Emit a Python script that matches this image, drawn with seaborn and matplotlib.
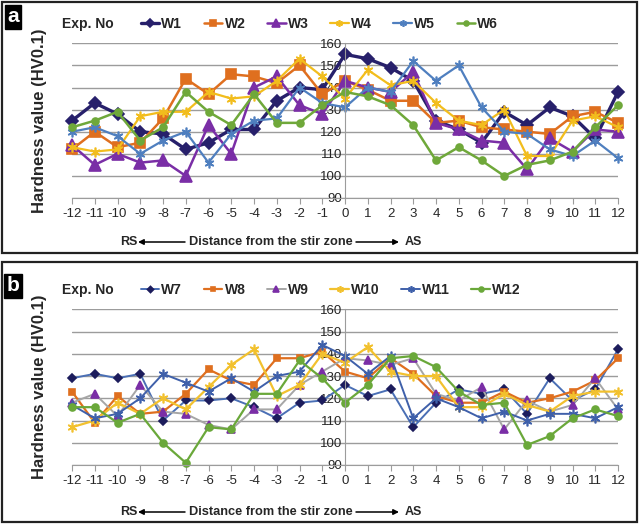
import matplotlib
matplotlib.use("Agg")
import matplotlib.pyplot as plt
from matplotlib.patches import Rectangle, FancyArrowPatch
import seaborn as sns

# distance from the stir zone (category positions)
positions = list(range(-12, 13))
y_ticks = [90, 100, 110, 120, 130, 140, 150, 160]

# panel a hardness values
w1 = [125, 133, 128, 120, 119, 112, 115, 121, 121, 134, 140, 139, 155,
      153, 149, 143, 125, 121, 115, 129, 123, 131, 127, 117, 138]
w2 = [112, 120, 113, 115, 126, 144, 137, 146, 145, 142, 150, 137, 143,
      139, 134, 134, 124, 125, 122, 121, 120, 119, 127, 129, 124]
w3 = [114, 105, 110, 106, 107, 100, 123, 110, 140, 145, 132, 128, 143,
      140, 138, 147, 124, 121, 116, 115, 103, 117, 111, 121, 120]
w4 = [113, 111, 112, 127, 129, 129, 138, 135, 136, 143, 153, 145, 135,
      148, 141, 143, 133, 125, 123, 130, 109, 109, 125, 127, 122]
w5 = [120, 122, 118, 110, 116, 120, 106, 119, 125, 126, 140, 133, 131,
      140, 138, 152, 143, 150, 131, 120, 119, 112, 109, 116, 108]
w6 = [122, 125, 129, 116, 122, 138, 129, 123, 137, 124, 124, 132, 138,
      136, 132, 123, 107, 113, 107, 100, 105, 107, 111, 122, 132]

# panel b hardness values
w7 = [129, 131, 129, 131, 110, 119, 119, 120, 116, 111, 118, 119, 126,
      121, 124, 107, 118, 124, 122, 124, 113, 129, 119, 124, 142]
w8 = [123, 109, 121, 113, 114, 122, 133, 128, 126, 138, 138, 141, 132,
      129, 138, 131, 121, 118, 118, 123, 118, 120, 123, 128, 138]
w9 = [118, 122, 112, 126, 114, 113, 108, 106, 115, 115, 126, 132, 138,
      137, 135, 138, 122, 119, 125, 106, 119, 114, 117, 129, 115]
w10 = [107, 110, 118, 113, 120, 115, 125, 135, 142, 121, 126, 140, 136,
       143, 132, 130, 130, 116, 116, 122, 117, 114, 121, 123, 123]
w11 = [117, 111, 113, 120, 131, 127, 123, 129, 123, 130, 132, 144, 139,
       131, 139, 111, 120, 116, 111, 114, 110, 113, 113, 111, 116]
w12 = [116, 116, 109, 113, 100, 91, 107, 106, 122, 122, 137, 129, 118,
       126, 138, 139, 134, 123, 117, 118, 99, 103, 111, 115, 112]

ASTER = (6, 2, 0)

# name, values, line colour, marker colour, marker, marker size, line width
series_a = [
    ("W1", w1, "#27206b", "#27206b", "D", 6.5, 2.4),
    ("W2", w2, "#df6f1f", "#df6f1f", "s", 7, 1.8),
    ("W3", w3, "#7a2ea6", "#7a2ea6", "^", 8, 1.8),
    ("W4", w4, "#f2bd1d", "#f2bd1d", ASTER, 7, 1.6),
    ("W5", w5, "#4f7fbf", "#4f7fbf", ASTER, 7, 1.6),
    ("W6", w6, "#6fa83a", "#6fa83a", "o", 5, 1.8),
]
series_b = [
    ("W7", w7, "#4a6fb5", "#1c1c5c", "D", 4.5, 1.4),
    ("W8", w8, "#df6f1f", "#df6f1f", "s", 5, 1.6),
    ("W9", w9, "#a6a6a6", "#7a2ea6", "^", 6, 1.4),
    ("W10", w10, "#f2c12e", "#f2c12e", ASTER, 7, 1.6),
    ("W11", w11, "#3f60aa", "#3f60aa", ASTER, 7, 1.4),
    ("W12", w12, "#6aa83a", "#6aa83a", "o", 5, 1.6),
]

sns.set_style("white")
plt.rcParams["font.family"] = ["Liberation Sans", "DejaVu Sans"]

fig = plt.figure(figsize=(6.4, 5.25), dpi=100)
W, H = 640.0, 525.0


def draw_panel(ax, series, legend_y, xlabel_y, letter, letter_y):
    for name, vals, lc, mc, mk, ms, lw in series:
        sns.lineplot(x=positions, y=vals, ax=ax, color=lc, lw=lw, marker=mk,
                     markersize=ms, markerfacecolor=mc, markeredgecolor=mc,
                     markeredgewidth=1.2, label=name, clip_on=False)
    ax.set_xlim(-12, 12)
    ax.set_ylim(90, 160)
    ax.set_xticks(positions)
    ax.set_xticklabels([str(p) for p in positions])
    ax.set_yticks(y_ticks)
    ax.yaxis.grid(True, color="#9c9c9c", lw=1)
    ax.set_axisbelow(True)
    for s in ("top", "right"):
        ax.spines[s].set_visible(False)
    ax.spines["left"].set_position(("data", 0))
    ax.spines["left"].set_color("#9c9c9c")
    ax.spines["bottom"].set_color("#9c9c9c")
    ax.tick_params(axis="x", length=4, color="#9c9c9c", labelsize=9.5,
                   pad=3, direction="out", bottom=True)
    ax.tick_params(axis="y", length=0, labelsize=9.5, pad=2)
    ax.set_ylabel("Hardness value (HV0.1)", fontsize=12, fontweight="bold")
    ax.yaxis.set_label_coords(-0.046, 0.5)
    ax.set_xlabel("")

    leg = ax.legend(ncol=6, loc="center left", frameon=False,
                    bbox_to_anchor=(128 / W, legend_y),
                    bbox_transform=fig.transFigure, handlelength=1.35,
                    handletextpad=0.15, columnspacing=1.55,
                    prop={"weight": "bold", "size": 10})
    for h in leg.legend_handles:
        h.set_markersize(h.get_markersize() * 0.7)
    fig.text(62 / W, legend_y, "Exp. No", fontsize=10, fontweight="bold",
             va="center", ha="left")

    fig.text(120 / W, xlabel_y, "RS", fontsize=9, fontweight="bold",
             va="center", ha="left")
    fig.text(189 / W, xlabel_y, "Distance from the stir zone", fontsize=9.2,
             fontweight="bold", va="center", ha="left")
    fig.text(405 / W, xlabel_y, "AS", fontsize=9, fontweight="bold",
             va="center", ha="left")
    arrow = dict(arrowstyle="-|>", color="black", lw=1.1,
                 mutation_scale=8, shrinkA=0, shrinkB=0)
    fig.add_artist(FancyArrowPatch((185 / W, xlabel_y), (138 / W, xlabel_y),
                                   transform=fig.transFigure, **arrow))
    fig.add_artist(FancyArrowPatch((356 / W, xlabel_y), (399 / W, xlabel_y),
                                   transform=fig.transFigure, **arrow))

    fig.text(13 / W, letter_y, letter, color="white", fontsize=15,
             fontweight="bold", ha="center", va="center",
             bbox=dict(facecolor="black", edgecolor="black",
                       boxstyle="square,pad=0.12"))


ax_a = fig.add_axes([72 / W, 1 - 198 / H, 546 / W, 154.7 / H])
draw_panel(ax_a, series_a, 1 - 24 / H, 1 - 242 / H, "a", 1 - 17 / H)

ax_b = fig.add_axes([72 / W, 1 - 465 / H, 546 / W, 155.7 / H])
draw_panel(ax_b, series_b, 1 - 290 / H, 1 - 512 / H, "b", 1 - 285.5 / H)

# panel frames
fig.add_artist(Rectangle((2 / W, 1 - 253 / H), 635 / W, 251 / H,
                         transform=fig.transFigure, fill=False,
                         edgecolor="#222222", lw=1.6))
fig.add_artist(Rectangle((2 / W, 1 - 522 / H), 635 / W, 260 / H,
                         transform=fig.transFigure, fill=False,
                         edgecolor="#222222", lw=1.6))

fig.savefig("out.png", dpi=100)
